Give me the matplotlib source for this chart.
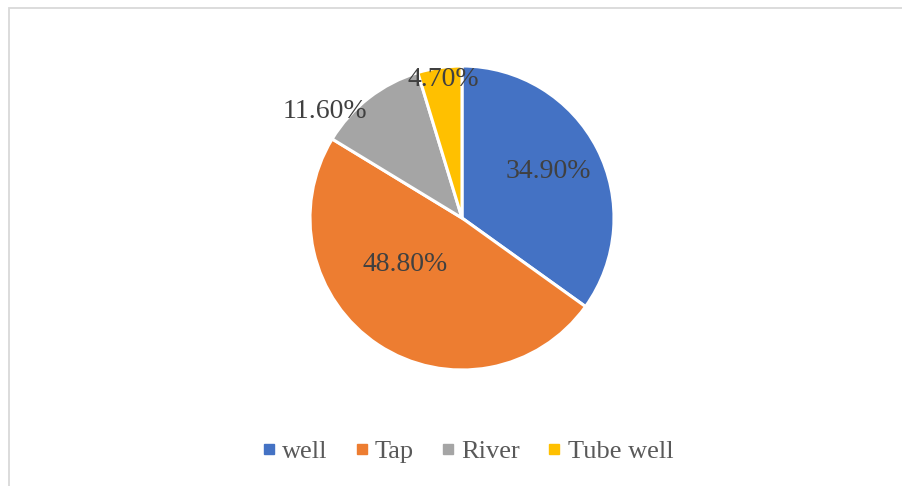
import matplotlib
matplotlib.use("Agg")
import matplotlib.pyplot as plt
from matplotlib.lines import Line2D
from matplotlib.patches import Rectangle

categories = ["well", "Tap", "River", "Tube well"]
values = [34.9, 48.8, 11.6, 4.7]
label_texts = ["34.90%", "48.80%", "11.60%", "4.70%"]
colors = ["#4472C4", "#ED7D31", "#A5A5A5", "#FFC000"]

# label positions in units of pie radius (layout, not data)
label_pos = [(0.566, 0.303), (-0.375, -0.309), (-0.90, 0.70), (-0.125, 0.908)]

W, H, DPI = 903, 486, 100
fig = plt.figure(figsize=(W / DPI, H / DPI), dpi=DPI)
fig.patch.set_facecolor("white")

# chart border (cropped on right and bottom)
fig.patches.append(Rectangle((8.5 / W, -0.1), 2.0, 1.1 - 8.5 / H,
                             transform=fig.transFigure, fill=False,
                             edgecolor="#D9D9D9", linewidth=1.3))

cx, cy, r = 462, 218, 152
ax = fig.add_axes([(cx - r) / W, 1 - (cy + r) / H, 2 * r / W, 2 * r / H])
ax.pie(values, colors=colors, startangle=90, counterclock=False, radius=1,
       wedgeprops=dict(edgecolor="white", linewidth=2.2))
ax.set_xlim(-1, 1)
ax.set_ylim(-1, 1)
ax.set_aspect("auto")
ax.axis("off")

for txt, (x, y) in zip(label_texts, label_pos):
    ax.text(x, y, txt, ha="center", va="center", fontsize=20,
            family="Liberation Serif", color="#404040")

handles = [Line2D([], [], marker="s", linestyle="none", markersize=7,
                  markerfacecolor=c, markeredgecolor=c) for c in colors]
fig.legend(handles, categories, loc="center", ncol=4,
           bbox_to_anchor=(467 / W, 1 - 451 / H), frameon=False,
           prop={"family": "Liberation Serif", "size": 19},
           labelcolor="#595959", handlelength=0.6, handletextpad=0.2,
           columnspacing=1.0)

fig.savefig("out.png", dpi=DPI)
